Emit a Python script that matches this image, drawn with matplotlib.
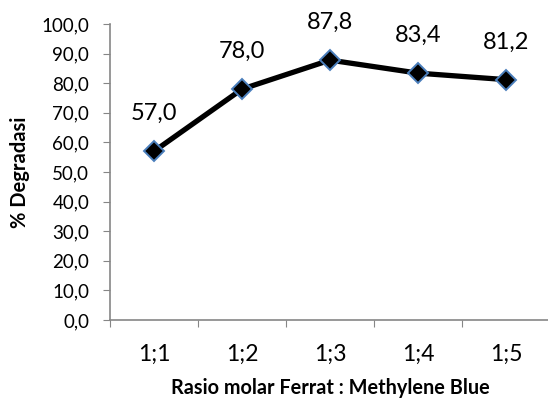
import matplotlib
matplotlib.use("Agg")
import matplotlib.pyplot as plt

categories = ["1;1", "1;2", "1;3", "1;4", "1;5"]
values = [57.0, 78.0, 87.8, 83.4, 81.2]
yticks = [0, 10, 20, 30, 40, 50, 60, 70, 80, 90, 100]

plt.rcParams['font.family'] = ['Lato', 'DejaVu Sans']

fig = plt.figure(figsize=(5.48, 3.98), dpi=100)
ax = fig.add_axes([110/548, 78/398, 440/548, 296/398])
x = list(range(len(categories)))
ax.plot(x, values, color='black', lw=3.8, marker='D', markersize=10.5,
        markerfacecolor='black', markeredgecolor='#4a7ebb', markeredgewidth=1.4, zorder=3,
        clip_on=False)
for xi, v in zip(x, values):
    ax.annotate(f"{v:.1f}".replace('.', ','), (xi, v), xytext=(0, 27), textcoords='offset points',
                ha='center', va='center', fontsize=17)
ax.set_xlim(-0.5, len(categories) - 0.5)
ax.set_ylim(0, 100)
ax.set_yticks(yticks)
ax.set_yticklabels([f"{t:.1f}".replace('.', ',') for t in yticks], fontsize=13.5)
ax.set_xticks([i - 0.5 for i in range(len(categories) + 1)])
ax.set_xticklabels([])
ax.set_xticks(x, minor=True)
ax.set_xticklabels(categories, minor=True, fontsize=16.5)
ax.tick_params(axis='x', which='minor', length=0, pad=17)
ax.tick_params(axis='x', which='major', length=5, color='#868686', direction='out')
ax.tick_params(axis='y', length=5, color='#868686', direction='out', pad=10)
for s in ['top', 'right']:
    ax.spines[s].set_visible(False)
for s in ['left', 'bottom']:
    ax.spines[s].set_color('#868686')
    ax.spines[s].set_linewidth(1.2)
ax.set_ylabel('% Degradasi', fontsize=14.5, fontweight='bold', labelpad=8)
ax.set_xlabel('Rasio molar Ferrat : Methylene Blue', fontsize=14.3, fontweight='bold', labelpad=10)
fig.savefig('out.png', dpi=100)
